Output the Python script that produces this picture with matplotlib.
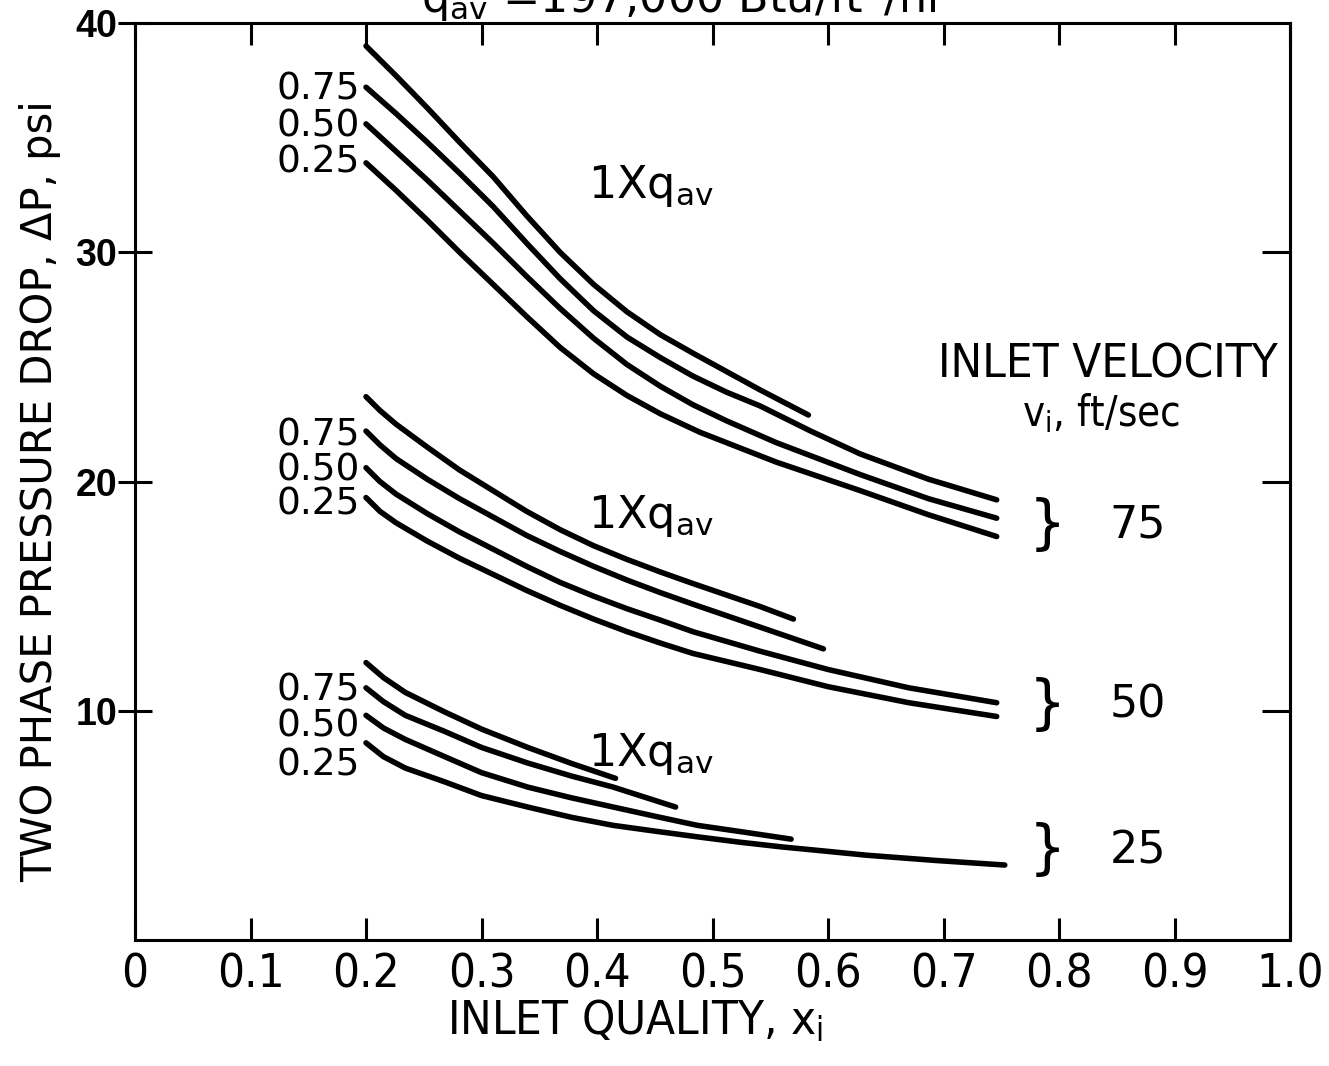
import numpy as np
import matplotlib.pyplot as plt

plt.rcParams['mathtext.default'] = 'regular'

# 75 ft/sec group
top_x_a = [0.20, 0.226, 0.253, 0.281, 0.310, 0.339, 0.368, 0.397, 0.426, 0.455, 0.483, 0.512, 0.541, 0.583]
top_y_a = [39.0, 37.7, 36.3, 34.8, 33.3, 31.6, 30.0, 28.6, 27.4, 26.4, 25.6, 24.8, 24.0, 22.9]
top_x_b = [0.20, 0.226, 0.253, 0.281, 0.310, 0.339, 0.368, 0.397, 0.426, 0.455, 0.483, 0.512, 0.541, 0.585, 0.628, 0.687, 0.746]
top_y_b = [37.2, 36.05, 34.8, 33.45, 32.0, 30.4, 28.85, 27.45, 26.3, 25.4, 24.6, 23.9, 23.3, 22.2, 21.2, 20.1, 19.2]
top_x_c = [0.20, 0.226, 0.253, 0.281, 0.310, 0.339, 0.368, 0.397, 0.426, 0.455, 0.483, 0.512, 0.555, 0.628, 0.687, 0.746]
top_y_c = [35.6, 34.4, 33.15, 31.8, 30.4, 28.95, 27.55, 26.25, 25.1, 24.15, 23.35, 22.65, 21.7, 20.3, 19.25, 18.4]
top_x_d = [0.20, 0.226, 0.253, 0.281, 0.310, 0.339, 0.368, 0.397, 0.426, 0.455, 0.489, 0.555, 0.628, 0.687, 0.746]
top_y_d = [33.9, 32.7, 31.4, 30.0, 28.6, 27.2, 25.85, 24.7, 23.75, 22.95, 22.15, 20.85, 19.6, 18.55, 17.6]

# 50 ft/sec group
mid_x_a = [0.20, 0.212, 0.226, 0.253, 0.281, 0.310, 0.339, 0.368, 0.397, 0.426, 0.455, 0.483, 0.512, 0.541, 0.570]
mid_y_a = [23.7, 23.1, 22.5, 21.5, 20.5, 19.6, 18.7, 17.9, 17.2, 16.6, 16.05, 15.55, 15.05, 14.55, 14.0]
mid_x_b = [0.20, 0.212, 0.226, 0.253, 0.281, 0.310, 0.339, 0.368, 0.397, 0.426, 0.455, 0.483, 0.512, 0.541, 0.570, 0.596]
mid_y_b = [22.2, 21.6, 21.0, 20.1, 19.25, 18.45, 17.65, 16.95, 16.3, 15.7, 15.15, 14.65, 14.15, 13.65, 13.15, 12.7]
mid_x_c = [0.20, 0.212, 0.226, 0.253, 0.281, 0.310, 0.339, 0.368, 0.397, 0.426, 0.455, 0.483, 0.541, 0.600, 0.670, 0.746]
mid_y_c = [20.6, 20.0, 19.45, 18.6, 17.8, 17.05, 16.3, 15.6, 15.0, 14.45, 13.95, 13.45, 12.6, 11.8, 11.0, 10.35]
mid_x_d = [0.20, 0.212, 0.226, 0.253, 0.281, 0.310, 0.339, 0.368, 0.397, 0.426, 0.455, 0.483, 0.541, 0.600, 0.670, 0.746]
mid_y_d = [19.3, 18.7, 18.2, 17.4, 16.65, 15.95, 15.25, 14.6, 14.0, 13.45, 12.95, 12.5, 11.8, 11.05, 10.35, 9.75]

# 25 ft/sec group
bot_x_a = [0.20, 0.215, 0.234, 0.268, 0.300, 0.340, 0.378, 0.416]
bot_y_a = [12.1, 11.45, 10.8, 9.95, 9.2, 8.4, 7.7, 7.05]
bot_x_b = [0.20, 0.215, 0.234, 0.268, 0.300, 0.340, 0.378, 0.414, 0.440, 0.468]
bot_y_b = [11.0, 10.4, 9.8, 9.1, 8.4, 7.72, 7.15, 6.67, 6.25, 5.8]
bot_x_c = [0.20, 0.215, 0.234, 0.268, 0.300, 0.340, 0.378, 0.414, 0.450, 0.487, 0.528, 0.568]
bot_y_c = [9.8, 9.25, 8.75, 8.0, 7.3, 6.67, 6.2, 5.8, 5.4, 5.0, 4.7, 4.4]
bot_x_d = [0.20, 0.215, 0.234, 0.268, 0.300, 0.340, 0.378, 0.414, 0.450, 0.487, 0.523, 0.560, 0.597, 0.633, 0.693, 0.753]
bot_y_d = [8.6, 8.0, 7.5, 6.9, 6.3, 5.8, 5.35, 5.0, 4.75, 4.5, 4.27, 4.06, 3.88, 3.7, 3.47, 3.27]

curve_labels = ['0.75', '0.50', '0.25']
top_label_y = [37.1, 35.5, 33.9]
mid_label_y = [22.0, 20.5, 19.0]
bot_label_y = [10.9, 9.3, 7.6]

velocities = ['75', '50', '25']
velocity_y = [18.1, 10.25, 3.9]
heat_label_y = [32.9, 18.5, 8.1]

x_ticks = [0, 0.1, 0.2, 0.3, 0.4, 0.5, 0.6, 0.7, 0.8, 0.9, 1.0]
x_tick_labels = ['0', '0.1', '0.2', '0.3', '0.4', '0.5', '0.6', '0.7', '0.8', '0.9', '1.0']
y_ticks = [10, 20, 30, 40]

fig = plt.figure(figsize=(13.29, 10.66), dpi=100)
ax = fig.add_axes([0.1016, 0.1182, 0.8691, 0.8602])

groups = [
    [(top_x_a, top_y_a), (top_x_b, top_y_b), (top_x_c, top_y_c), (top_x_d, top_y_d)],
    [(mid_x_a, mid_y_a), (mid_x_b, mid_y_b), (mid_x_c, mid_y_c), (mid_x_d, mid_y_d)],
    [(bot_x_a, bot_y_a), (bot_x_b, bot_y_b), (bot_x_c, bot_y_c), (bot_x_d, bot_y_d)],
]
for g in groups:
    for x, y in g:
        ax.plot(x, y, color='black', lw=4, solid_capstyle='round', solid_joinstyle='round')

ax.set_xlim(0, 1)
ax.set_ylim(0, 40)

ax.set_xticks(x_ticks)
ax.set_xticklabels(x_tick_labels, family='DejaVu Sans', stretch='condensed', fontsize=34)
ax.set_yticks(y_ticks)
ax.set_yticklabels([str(v) for v in y_ticks], family=['Liberation Sans', 'DejaVu Sans'],
                   fontweight='bold', fontsize=27)
ax.tick_params(axis='x', direction='in', length=16, width=2.2, top=True, pad=9)
ax.tick_params(axis='y', direction='inout', length=24, width=2.2, right=False, pad=1)

sec = ax.secondary_yaxis('right')
sec.set_yticks([10, 20, 30])
sec.tick_params(direction='in', length=20, width=2.2, labelright=False)
sec.spines['right'].set_linewidth(2.2)

for s in ax.spines.values():
    s.set_linewidth(2.2)

ax.set_xlabel('INLET QUALITY, x$_{i}$', family='DejaVu Sans', stretch='condensed', fontsize=34)
ax.xaxis.set_label_coords(0.433, -0.063)
ax.set_ylabel('TWO PHASE PRESSURE DROP, ΔP, psi', fontsize=30)
ax.yaxis.set_label_coords(-0.064, 0.49)

# curve labels
for ys in [top_label_y, mid_label_y, bot_label_y]:
    for lab, yy in zip(curve_labels, ys):
        ax.text(0.195, yy, lab, ha='right', va='center', fontsize=27)

for yy in heat_label_y:
    ax.text(0.392, yy, '1Xq$_{av}$', ha='left', va='center', fontsize=32)

ax.text(0.842, 25.1, 'INLET VELOCITY', ha='center', va='center',
        family='DejaVu Sans', stretch='condensed', fontsize=34)
ax.text(0.836, 23.0, 'v$_{i}$, ft/sec', ha='center', va='center',
        family='DejaVu Sans', stretch='condensed', fontsize=30)
for lab, yy in zip(velocities, velocity_y):
    ax.text(0.79, yy, '}', ha='center', va='center', fontsize=42)
    ax.text(0.868, yy, lab, ha='center', va='center', fontsize=32)

fig.text(0.515, 0.988, 'q$_{av}$ =197,000 Btu/ft$^{2}$/hr', ha='center', va='baseline',
         fontsize=32)

fig.savefig('out.png', dpi=100)
